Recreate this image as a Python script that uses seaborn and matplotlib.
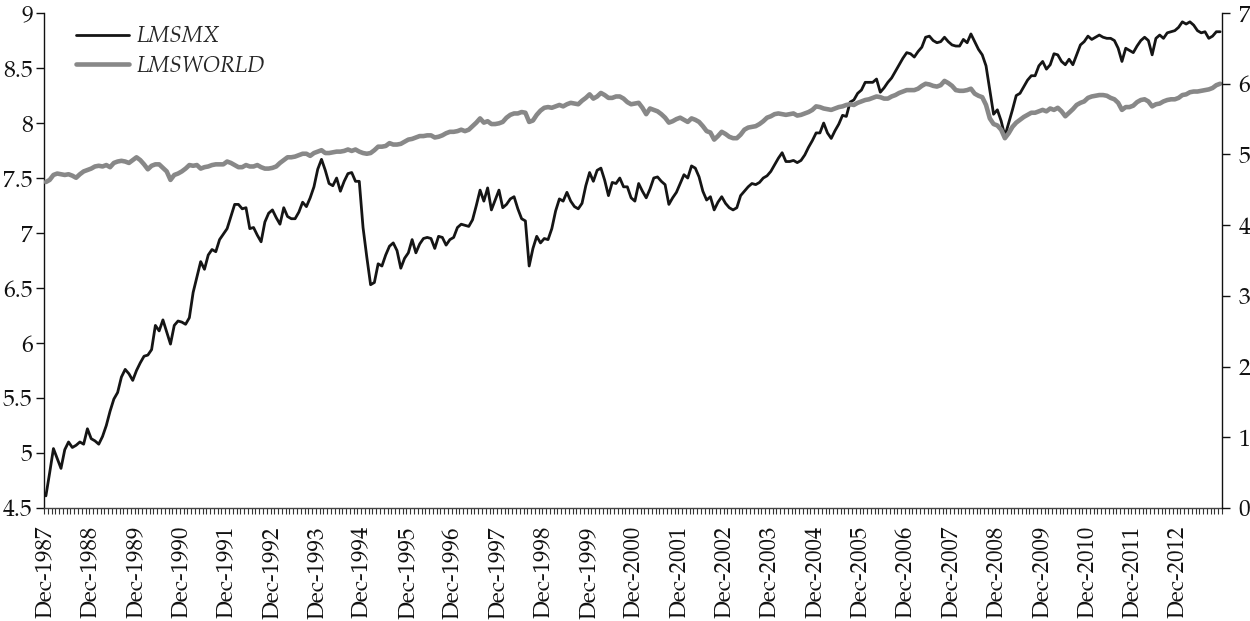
import numpy as np
import pandas as pd
import matplotlib
matplotlib.use("Agg")
import matplotlib.pyplot as plt
import seaborn as sns
from matplotlib.lines import Line2D

# ---------------- data (monthly, Dec-1987 ... Nov-2013) ----------------
lmsmx = [
    4.61, 4.82, 5.04, 4.95, 4.86, 5.03, 5.10, 5.05, 5.07, 5.10, 5.08, 5.22,
    5.13, 5.11, 5.08, 5.15, 5.25, 5.38, 5.49, 5.55, 5.69, 5.76, 5.72, 5.66,
    5.75, 5.82, 5.88, 5.89, 5.94, 6.16, 6.11, 6.21, 6.10, 5.99, 6.16, 6.20,
    6.19, 6.17, 6.23, 6.46, 6.60, 6.74, 6.67, 6.80, 6.85, 6.83, 6.94, 6.99,
    7.04, 7.15, 7.26, 7.26, 7.22, 7.23, 7.04, 7.05, 6.98, 6.92, 7.10, 7.18,
    7.21, 7.14, 7.08, 7.23, 7.15, 7.13, 7.13, 7.19, 7.28, 7.24, 7.32, 7.42,
    7.58, 7.67, 7.57, 7.45, 7.43, 7.50, 7.38, 7.47, 7.54, 7.55, 7.47, 7.47,
    7.05, 6.78, 6.53, 6.55, 6.72, 6.70, 6.80, 6.88, 6.91, 6.84, 6.68, 6.77,
    6.82, 6.94, 6.82, 6.90, 6.95, 6.96, 6.95, 6.86, 6.97, 6.96, 6.89, 6.94,
    6.96, 7.05, 7.08, 7.07, 7.06, 7.12, 7.25, 7.39, 7.29, 7.41, 7.21, 7.30,
    7.39, 7.23, 7.26, 7.31, 7.33, 7.22, 7.13, 7.11, 6.70, 6.86, 6.97, 6.91,
    6.95, 6.94, 7.04, 7.20, 7.31, 7.29, 7.37, 7.29, 7.24, 7.22, 7.27, 7.43,
    7.55, 7.47, 7.57, 7.59, 7.48, 7.34, 7.46, 7.45, 7.50, 7.42, 7.42, 7.32,
    7.29, 7.45, 7.38, 7.32, 7.40, 7.50, 7.51, 7.47, 7.44, 7.26, 7.32, 7.37,
    7.45, 7.53, 7.50, 7.61, 7.59, 7.51, 7.38, 7.30, 7.33, 7.21, 7.28, 7.33,
    7.27, 7.23, 7.21, 7.23, 7.34, 7.38, 7.42, 7.45, 7.44, 7.46, 7.50, 7.52,
    7.56, 7.62, 7.68, 7.73, 7.65, 7.65, 7.66, 7.64, 7.66, 7.71, 7.78, 7.84,
    7.91, 7.91, 8.00, 7.91, 7.86, 7.93, 7.99, 8.07, 8.06, 8.19, 8.21, 8.27,
    8.30, 8.37, 8.37, 8.37, 8.40, 8.28, 8.32, 8.37, 8.41, 8.47, 8.53, 8.59,
    8.64, 8.63, 8.60, 8.65, 8.69, 8.78, 8.79, 8.75, 8.73, 8.74, 8.78, 8.74,
    8.71, 8.70, 8.70, 8.76, 8.73, 8.81, 8.74, 8.67, 8.62, 8.52, 8.30, 8.08,
    8.12, 8.02, 7.88, 8.00, 8.12, 8.25, 8.27, 8.33, 8.39, 8.43, 8.43, 8.52,
    8.56, 8.49, 8.53, 8.63, 8.62, 8.56, 8.53, 8.58, 8.53, 8.62, 8.71, 8.74,
    8.79, 8.76, 8.78, 8.80, 8.78, 8.77, 8.77, 8.75, 8.68, 8.56, 8.68, 8.66,
    8.64, 8.70, 8.75, 8.78, 8.75, 8.62, 8.77, 8.80, 8.77, 8.82, 8.83, 8.84,
    8.87, 8.92, 8.90, 8.92, 8.89, 8.84, 8.82, 8.83, 8.77, 8.79, 8.83, 8.83,
]

lmsworld = [
    4.61, 4.64, 4.71, 4.73, 4.72, 4.71, 4.72, 4.70, 4.67, 4.72, 4.76, 4.78,
    4.80, 4.83, 4.84, 4.83, 4.85, 4.82, 4.88, 4.90, 4.91, 4.90, 4.88, 4.92,
    4.96, 4.92, 4.86, 4.79, 4.84, 4.86, 4.86, 4.81, 4.76, 4.64, 4.71, 4.73,
    4.76, 4.80, 4.85, 4.84, 4.85, 4.80, 4.82, 4.83, 4.85, 4.86, 4.86, 4.86,
    4.90, 4.88, 4.85, 4.82, 4.82, 4.85, 4.83, 4.83, 4.85, 4.82, 4.80, 4.80,
    4.81, 4.83, 4.88, 4.92, 4.96, 4.96, 4.97, 4.99, 5.01, 5.01, 4.98, 5.02,
    5.04, 5.06, 5.02, 5.02, 5.03, 5.04, 5.04, 5.05, 5.07, 5.05, 5.07, 5.04,
    5.02, 5.01, 5.02, 5.06, 5.11, 5.11, 5.12, 5.16, 5.14, 5.14, 5.15, 5.18,
    5.21, 5.22, 5.24, 5.26, 5.26, 5.27, 5.27, 5.24, 5.25, 5.27, 5.30, 5.32,
    5.32, 5.33, 5.35, 5.33, 5.35, 5.40, 5.45, 5.51, 5.45, 5.47, 5.43, 5.43,
    5.44, 5.46, 5.52, 5.56, 5.58, 5.58, 5.60, 5.59, 5.46, 5.48, 5.56, 5.62,
    5.66, 5.67, 5.66, 5.68, 5.70, 5.68, 5.71, 5.73, 5.72, 5.71, 5.76, 5.80,
    5.85, 5.79, 5.82, 5.87, 5.84, 5.80, 5.80, 5.82, 5.82, 5.79, 5.74, 5.71,
    5.72, 5.73, 5.66, 5.57, 5.65, 5.63, 5.61, 5.57, 5.52, 5.45, 5.47, 5.50,
    5.52, 5.49, 5.46, 5.51, 5.49, 5.46, 5.40, 5.33, 5.31, 5.21, 5.26, 5.32,
    5.29, 5.25, 5.23, 5.23, 5.28, 5.35, 5.38, 5.39, 5.40, 5.43, 5.47, 5.52,
    5.54, 5.57, 5.58, 5.57, 5.56, 5.57, 5.58, 5.55, 5.56, 5.58, 5.60, 5.63,
    5.68, 5.67, 5.65, 5.64, 5.63, 5.65, 5.67, 5.68, 5.70, 5.71, 5.70, 5.73,
    5.75, 5.77, 5.78, 5.80, 5.82, 5.81, 5.79, 5.79, 5.82, 5.84, 5.87, 5.89,
    5.91, 5.91, 5.91, 5.93, 5.97, 6.00, 5.99, 5.97, 5.96, 5.98, 6.04, 6.01,
    5.97, 5.91, 5.90, 5.90, 5.91, 5.93, 5.86, 5.83, 5.81, 5.70, 5.51, 5.43,
    5.41, 5.35, 5.23, 5.30, 5.39, 5.45, 5.49, 5.53, 5.56, 5.59, 5.59, 5.61,
    5.63, 5.61, 5.65, 5.63, 5.66, 5.61, 5.54, 5.59, 5.64, 5.70, 5.73, 5.75,
    5.80, 5.82, 5.83, 5.84, 5.84, 5.83, 5.80, 5.78, 5.73, 5.63, 5.67, 5.67,
    5.69, 5.74, 5.77, 5.78, 5.75, 5.68, 5.71, 5.72, 5.75, 5.77, 5.78, 5.78,
    5.80, 5.84, 5.85, 5.88, 5.89, 5.89, 5.90, 5.91, 5.92, 5.94, 5.98, 6.00,
]

year_labels = ["Dec-1987", "Dec-1988", "Dec-1989", "Dec-1990", "Dec-1991",
               "Dec-1992", "Dec-1993", "Dec-1994", "Dec-1995", "Dec-1996",
               "Dec-1997", "Dec-1998", "Dec-1999", "Dec-2000", "Dec-2001",
               "Dec-2002", "Dec-2003", "Dec-2004", "Dec-2005", "Dec-2006",
               "Dec-2007", "Dec-2008", "Dec-2009", "Dec-2010", "Dec-2011",
               "Dec-2012"]
left_ticks = [4.5, 5, 5.5, 6, 6.5, 7, 7.5, 8, 8.5, 9]
left_tick_labels = ["4.5", "5", "5.5", "6", "6.5", "7", "7.5", "8", "8.5", "9"]
right_ticks = [0, 1, 2, 3, 4, 5, 6, 7]

n = len(lmsmx)
df = pd.DataFrame({
    "month": np.arange(n),
    "LMSMX": lmsmx,
    "LMSWORLD": lmsworld,
})

# ---------------- style ----------------
sns.set_theme(style="white")
plt.rcParams["font.family"] = ["TeX Gyre Pagella", "P052", "URW Palladio L",
                               "Palatino Linotype", "Liberation Serif",
                               "DejaVu Serif"]
plt.rcParams["axes.linewidth"] = 1.0

fig = plt.figure(figsize=(12.5, 6.21), dpi=100)
ax = fig.add_axes([0.0352, 0.182, 0.9424, 0.797])
ax2 = ax.twinx()

black = "#151515"
grey = "#888888"

sns.lineplot(data=df, x="month", y="LMSMX", ax=ax, color=black, lw=2.0,
             legend=False)
sns.lineplot(data=df, x="month", y="LMSWORLD", ax=ax2, color=grey, lw=3.3,
             legend=False)

ax.set_xlim(-0.5, n - 0.5)
ax.set_ylim(4.5, 9)
ax2.set_ylim(0, 7)

ax.set_yticks(left_ticks)
ax.set_yticklabels(left_tick_labels)
ax2.set_yticks(right_ticks)
ax2.set_yticklabels([str(t) for t in right_ticks])

label_pos = np.arange(0, 12 * len(year_labels), 12)
ax.set_xticks(label_pos)
ax.set_xticklabels(year_labels, rotation=90)
ax.set_xticks(np.arange(-0.5, n, 1.0), minor=True)

ax.tick_params(axis="x", which="major", length=0, pad=13, labelsize=16.5,
               colors="#111111")
ax.tick_params(axis="x", which="minor", length=4, width=0.8, color="#333333",
               bottom=True, direction="out")
ax.tick_params(axis="y", which="major", length=6, width=1.0, labelsize=17,
               left=True, direction="out", pad=2, colors="#111111")
ax2.tick_params(axis="y", which="major", length=6, width=1.0, labelsize=17,
                right=True, direction="out", pad=6, colors="#111111")

for a in (ax, ax2):
    a.set_xlabel("")
    a.set_ylabel("")
    a.spines["top"].set_visible(False)
    a.grid(False)
ax.spines["left"].set_color("#111111")
ax.spines["bottom"].set_color("#444444")
ax2.spines["right"].set_color("#111111")
ax2.spines["left"].set_visible(False)
ax2.spines["bottom"].set_visible(False)
ax.spines["right"].set_visible(False)

handles = [Line2D([0], [0], color=black, lw=2.0),
           Line2D([0], [0], color=grey, lw=3.3)]
leg = ax2.legend(handles, ["LMSMX", "LMSWORLD"], loc="upper left",
                 bbox_to_anchor=(0.027, 0.975), frameon=False,
                 borderaxespad=0, borderpad=0,
                 handlelength=2.4, handletextpad=0.35, labelspacing=0.3,
                 prop={"style": "italic", "size": 16})

fig.savefig("out.png", dpi=100)
